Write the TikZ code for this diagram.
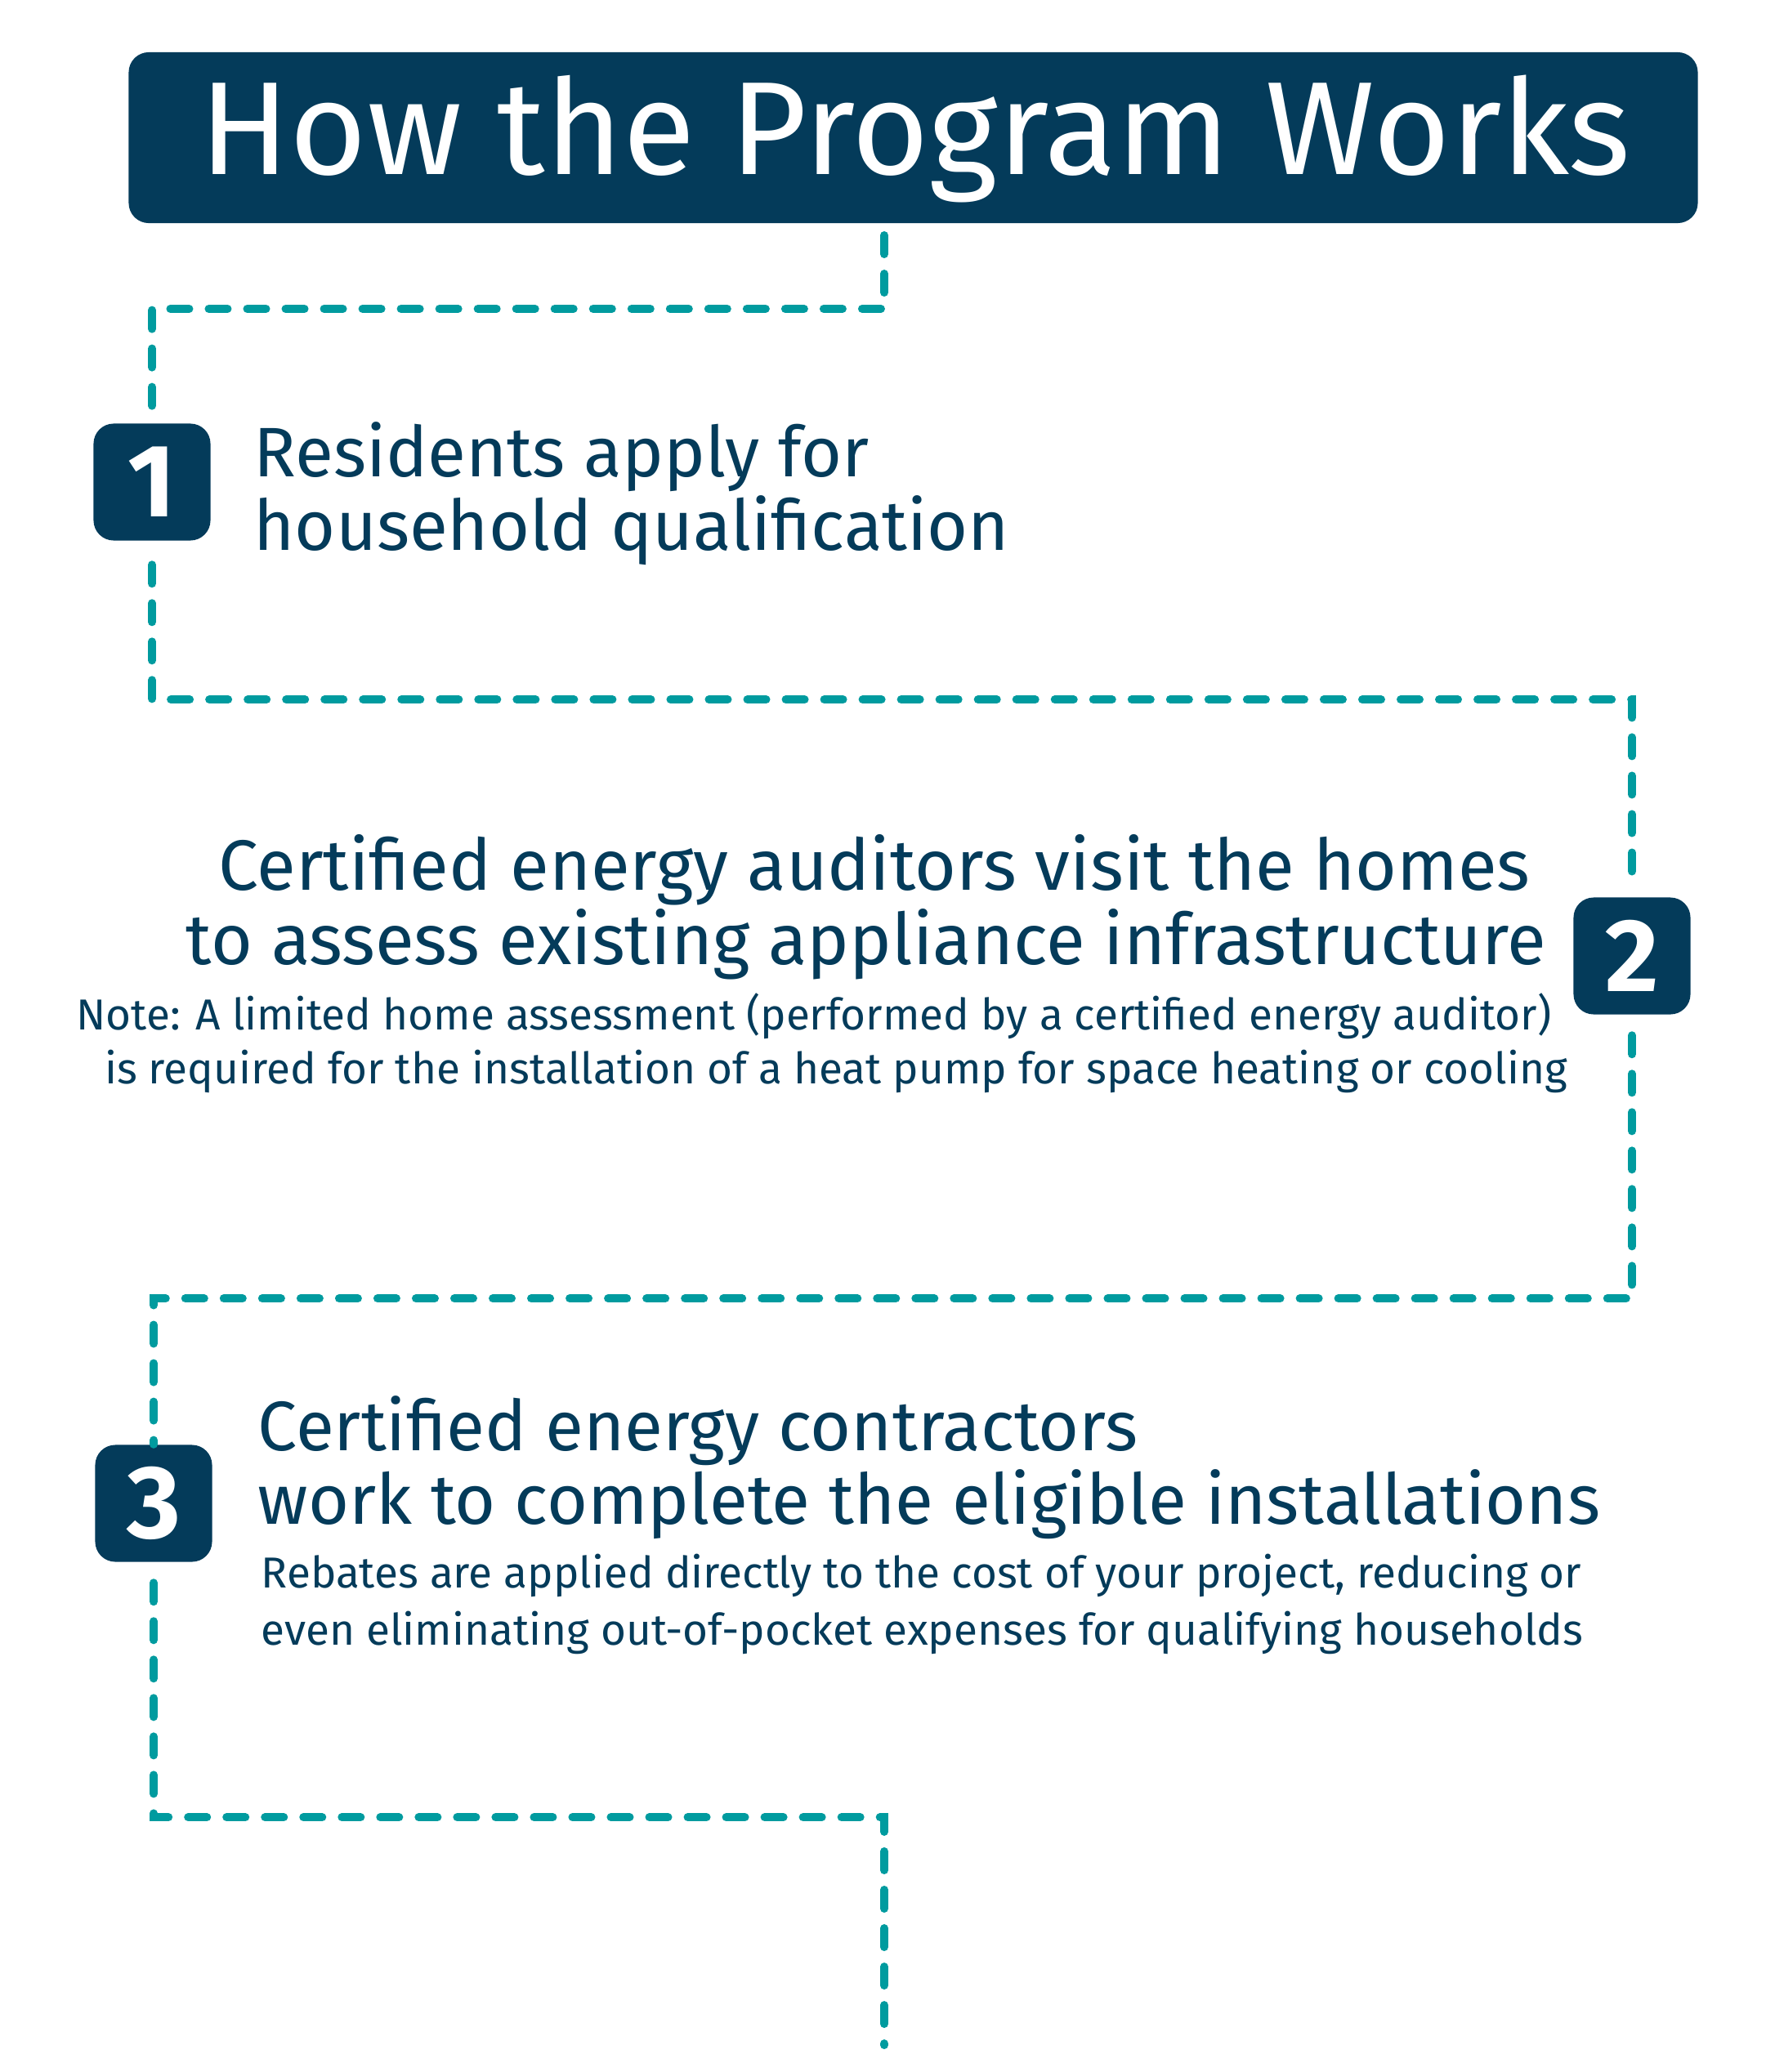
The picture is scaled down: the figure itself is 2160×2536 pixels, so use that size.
\documentclass[tikz,border=0pt]{standalone}
\usepackage{fontspec}
\setmainfont{Fira Sans}
\usepackage{xcolor}
\usetikzlibrary{calc}
\definecolor{navy}{HTML}{043B5A}
\definecolor{flowteal}{HTML}{009B9F}
\begin{document}
\begin{tikzpicture}[x=0.01cm, y=-0.01cm,
	numbox/.style={fill=navy, text=white, rounded corners=7pt, minimum size=1.43cm, inner sep=0pt, font=\fontsize{36}{36}\selectfont\bfseries},
	big/.style={text=navy, inner sep=0pt, font=\fontsize{24.4}{26}\selectfont},
	small/.style={text=navy, inner sep=0pt, font=\fontsize{15.1}{17}\selectfont},
	flow/.style={draw=flowteal, line width=0.1cm, line cap=round, dash pattern=on 0.23cm off 0.24cm}]
		\useasboundingbox (0,0) rectangle (2160,2536);
		%
		%title
		\node[fill=navy, rounded corners=7pt, minimum width=19.19cm, minimum height=2.09cm, inner sep=0pt] (title) at (1117.5,168.5) {};
		\node[anchor=base, text=white, inner sep=0pt, font=\fontsize{46.1}{50}\selectfont] (titletxt) at (1120,213) {How the Program Works};
		%
		%step boxes
		\node[numbox] (n1) at (186,590) {1};
		\node[numbox] (n2) at (1997,1170) {2};
		\node[numbox] (n3) at (188,1840) {3};
		%
		%step 1
		\node[big, anchor=base west] (s1a) at (310,583) {Residents apply for};
		\node[big, anchor=base west] (s1b) at (310,673) {household qualification};
		%
		%step 2
		\node[big, anchor=base, font=\fontsize{24.8}{26}\selectfont] (s2a) at (1070,1089) {Certified energy auditors visit the homes};
		\node[big, anchor=base, font=\fontsize{24.8}{26}\selectfont] (s2b) at (1060,1180) {to assess existing appliance infrastructure};
		\node[small, anchor=base] (s2c) at (996,1260) {Note: A limited home assessment (performed by a certified energy auditor)};
		\node[small, anchor=base] (s2d) at (1023,1326) {is required for the installation of a heat pump for space heating or cooling};
		%
		%step 3
		\node[big, anchor=base west] (s3a) at (315,1775) {Certified energy contractors};
		\node[big, anchor=base west] (s3b) at (315,1865) {work to complete the eligible installations};
		\node[small, anchor=base west] (s3c) at (319,1943) {Rebates are applied directly to the cost of your project, reducing or};
		\node[small, anchor=base west] (s3d) at (319,2013) {even eliminating out-of-pocket expenses for qualifying households};
		%
		%dashed path
		\coordinate (start) at (1082,288);
		\coordinate (stop) at (1082,2503);
		\draw[flow] (start) -- ++(0,90) -| (n1.north);
		\draw[flow] ($(n1.south)+(0,29)$) -- ++(0,165) -| ($(n2.north)+(0,-16)$);
		\draw[flow] ($(n2.south)+(0,25)$) -- ++(0,322) -| (n3.north);
		\draw[flow] ($(n3.south)+(0,25)$) -- ++(0,287) -| (stop);
	\end{tikzpicture}
\end{document}
